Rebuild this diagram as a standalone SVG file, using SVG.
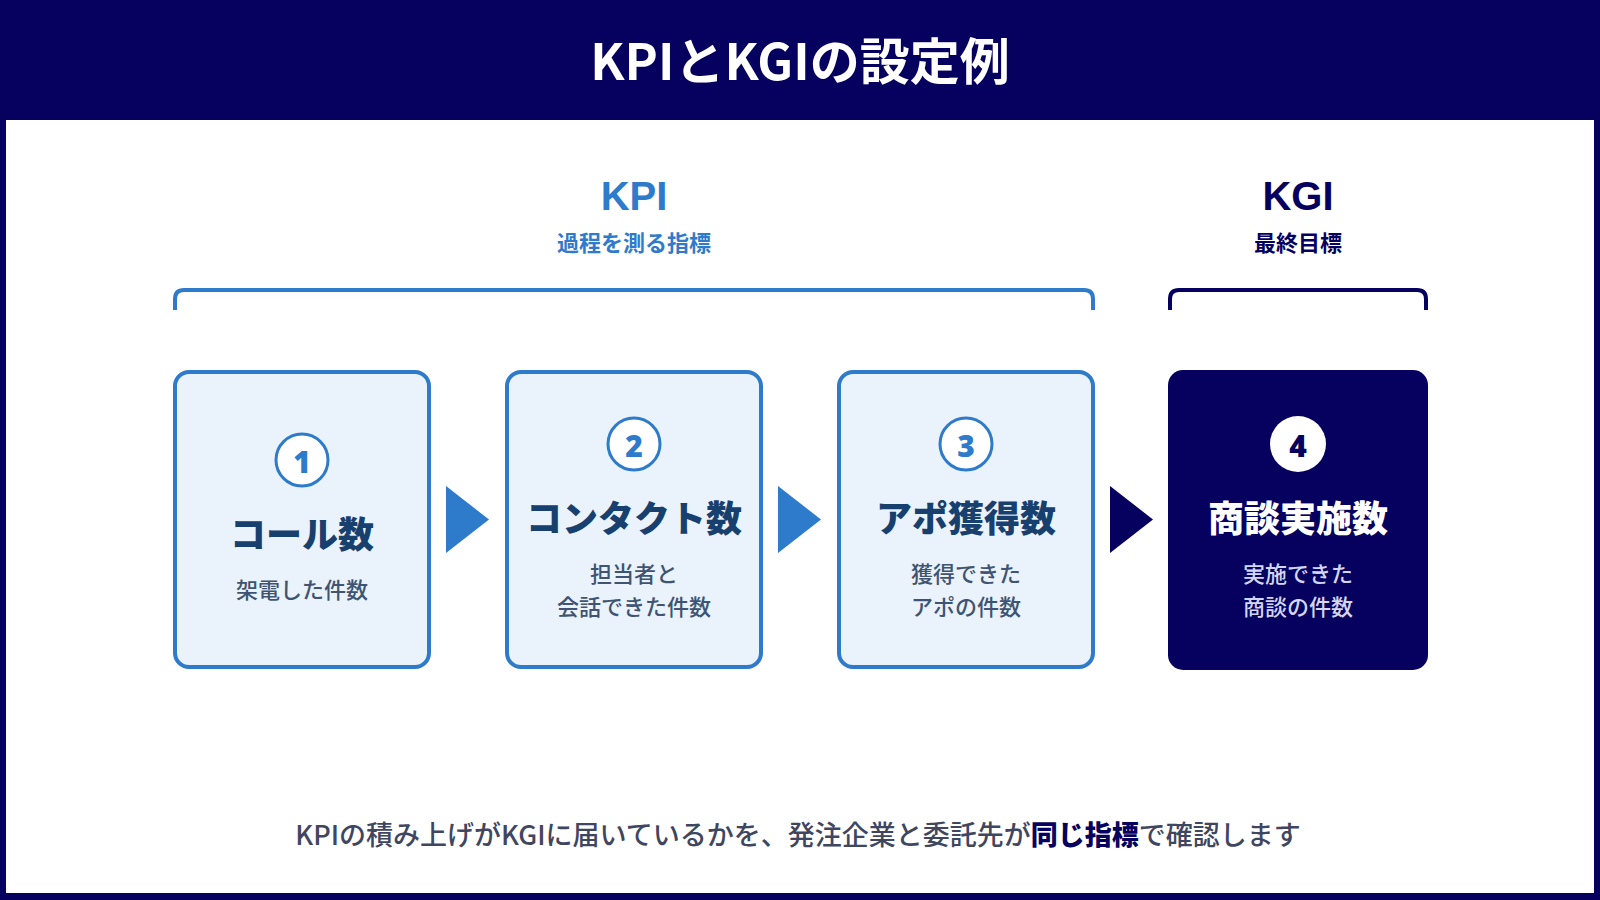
<svg xmlns="http://www.w3.org/2000/svg" width="1600" height="900" viewBox="0 0 1600 900">
  <style>
    text { font-family: "Noto Sans CJK JP", "Noto Sans", sans-serif; text-anchor: middle; dominant-baseline: central; }
    .hdr { font-size: 50px; font-weight: 700; fill: #FFFFFF; }
    .cat { font-size: 40px; font-weight: 700; font-family: "Liberation Sans", "Noto Sans CJK JP", sans-serif; }
    .catsub { font-size: 22px; font-weight: 700; }
    .kpi { fill: #2E7BCB; }
    .kgi { fill: #06005F; }
    .bracket { fill: none; stroke-width: 4; }
    .box { fill: #EAF2FB; stroke: #2E7BCB; stroke-width: 4; }
    .boxg { fill: #06005F; }
    .num { fill: #FFFFFF; stroke: #2E7BCB; stroke-width: 3; }
    .numt { font-size: 30px; font-weight: 900; fill: #2E7BCB; font-family: "Noto Sans", "Noto Sans CJK JP", sans-serif; }
    .title { font-size: 36px; font-weight: 900; fill: #17406E; }
    .sub { font-size: 22px; font-weight: 500; fill: #3E5472; }
    .foot { font-size: 27px; font-weight: 500; fill: #3F4660; }
  </style>
  <rect x="0" y="0" width="1600" height="900" fill="#06005F"/>
  <rect x="6" y="120" width="1588" height="773" fill="#FFFFFF"/>
  <text class="hdr" x="800" y="58">KPIとKGIの設定例</text>

  <g id="kpi-label">
    <text class="cat kpi" x="634" y="196">KPI</text>
    <text class="catsub kpi" x="634" y="241">過程を測る指標</text>
    <path class="bracket" stroke="#2E7BCB" d="M175,310 V299 Q175,290 184,290 H1084 Q1093,290 1093,299 V310"/>
  </g>
  <g id="kgi-label">
    <text class="cat kgi" x="1298" y="196">KGI</text>
    <text class="catsub kgi" x="1298" y="241">最終目標</text>
    <path class="bracket" stroke="#06005F" d="M1170,310 V299 Q1170,290 1179,290 H1417 Q1426,290 1426,299 V310"/>
  </g>

  <g id="connectors">
    <polygon points="446,486 489,519.5 446,553" fill="#2E7BCB"/>
    <polygon points="778,486 821,519.5 778,553" fill="#2E7BCB"/>
    <polygon points="1110,486 1153,519.5 1110,553" fill="#06005F"/>
  </g>

  <g id="node1">
    <rect class="box" x="175" y="372" width="254" height="295" rx="14"/>
    <circle class="num" cx="302" cy="460" r="26"/>
    <text class="numt" x="302" y="461">1</text>
    <text class="title" x="302" y="532">コール数</text>
    <text class="sub" x="302" y="588">架電した件数</text>
  </g>
  <g id="node2">
    <rect class="box" x="507" y="372" width="254" height="295" rx="14"/>
    <circle class="num" cx="634" cy="444" r="26"/>
    <text class="numt" x="634" y="445">2</text>
    <text class="title" x="634" y="516">コンタクト数</text>
    <text class="sub" x="634" y="572">担当者と</text>
    <text class="sub" x="634" y="605">会話できた件数</text>
  </g>
  <g id="node3">
    <rect class="box" x="839" y="372" width="254" height="295" rx="14"/>
    <circle class="num" cx="966" cy="444" r="26"/>
    <text class="numt" x="966" y="445">3</text>
    <text class="title" x="966" y="516">アポ獲得数</text>
    <text class="sub" x="966" y="572">獲得できた</text>
    <text class="sub" x="966" y="605">アポの件数</text>
  </g>
  <g id="node4">
    <rect class="boxg" x="1168" y="370" width="260" height="300" rx="15"/>
    <circle cx="1298" cy="444" r="28" fill="#FFFFFF"/>
    <text class="numt" x="1298" y="445" style="fill:#06005F">4</text>
    <text class="title" x="1298" y="516" style="fill:#FFFFFF">商談実施数</text>
    <text class="sub" x="1298" y="572" style="fill:#D3D6F0">実施できた</text>
    <text class="sub" x="1298" y="605" style="fill:#D3D6F0">商談の件数</text>
  </g>

  <text class="foot" x="798" y="833">KPIの積み上げがKGIに届いているかを、発注企業と委託先が<tspan font-weight="900" fill="#06005F">同じ指標</tspan>で確認します</text>
</svg>
